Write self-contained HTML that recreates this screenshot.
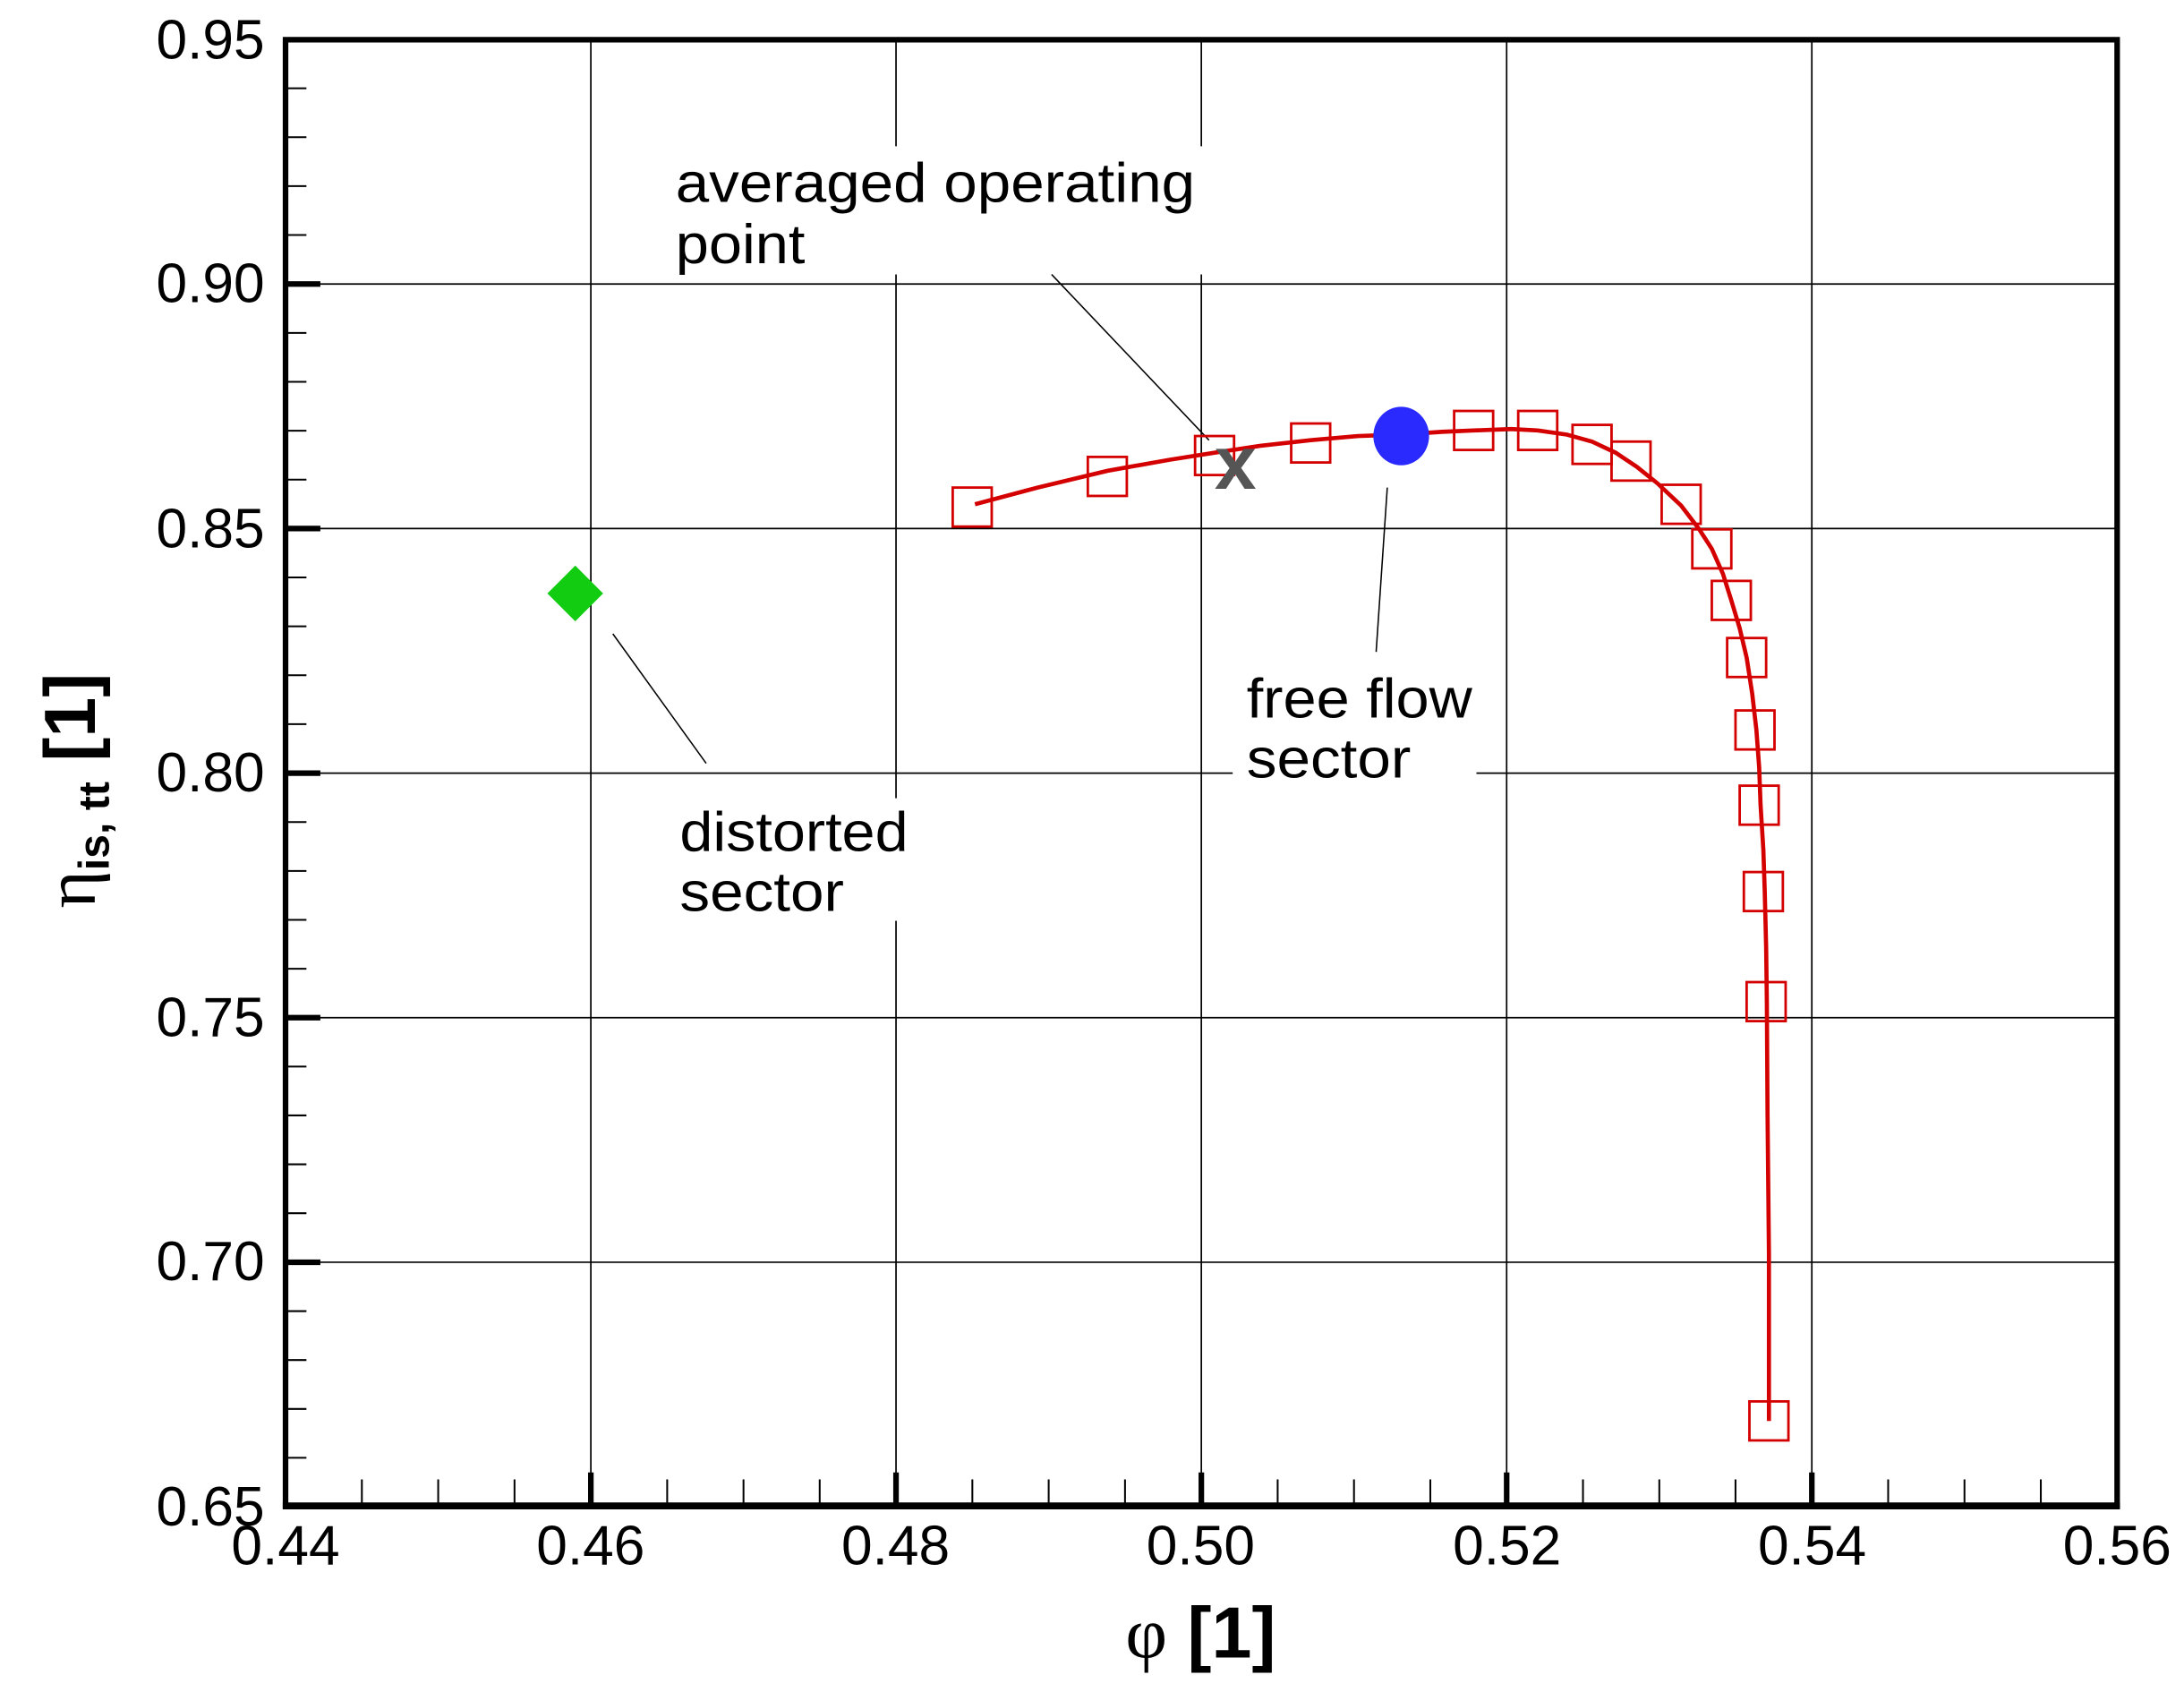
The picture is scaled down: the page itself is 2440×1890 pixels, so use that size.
<!DOCTYPE html>
<html><head><meta charset="utf-8"><style>
html,body{margin:0;padding:0;background:#fff;}
svg{display:block;}
text{font-family:"Liberation Sans",Arial,sans-serif;}
</style></head><body>
<svg width="2440" height="1890" viewBox="0 0 1568 1214.6" preserveAspectRatio="none" xmlns="http://www.w3.org/2000/svg">
<rect width="1568" height="1214.6" fill="#fff"/>
<g stroke="#000" stroke-width="1.1">
<line x1="424.2" y1="28" x2="424.2" y2="1081"/>
<line x1="643.3" y1="28" x2="643.3" y2="1081"/>
<line x1="862.5" y1="28" x2="862.5" y2="1081"/>
<line x1="1081.7" y1="28" x2="1081.7" y2="1081"/>
<line x1="1300.8" y1="28" x2="1300.8" y2="1081"/>
<line x1="205" y1="203.9" x2="1520" y2="203.9"/>
<line x1="205" y1="379.4" x2="1520" y2="379.4"/>
<line x1="205" y1="555" x2="1520" y2="555"/>
<line x1="205" y1="730.5" x2="1520" y2="730.5"/>
<line x1="205" y1="906.1" x2="1520" y2="906.1"/>
</g>
<rect x="480" y="105" width="385" height="92" fill="#fff"/>
<rect x="885" y="478" width="175" height="92" fill="#fff"/>
<rect x="480" y="573" width="180" height="88" fill="#fff"/>
<g stroke="#000" stroke-width="1.3">
<path d="M205 63.4h15M205 98.5h15M205 133.6h15M205 168.7h15M205 239h15M205 274.1h15M205 309.2h15M205 344.3h15M205 414.5h15M205 449.6h15M205 484.7h15M205 519.8h15M205 590.1h15M205 625.2h15M205 660.3h15M205 695.4h15M205 765.6h15M205 800.7h15M205 835.8h15M205 870.9h15M205 941.2h15M205 976.3h15M205 1011.4h15M205 1046.5h15"/>
<path d="M259.8 1081v-19M314.6 1081v-19M369.4 1081v-19M479 1081v-19M533.8 1081v-19M588.5 1081v-19M698.1 1081v-19M752.9 1081v-19M807.7 1081v-19M917.3 1081v-19M972.1 1081v-19M1026.9 1081v-19M1136.5 1081v-19M1191.3 1081v-19M1246 1081v-19M1355.6 1081v-19M1410.4 1081v-19M1465.2 1081v-19"/>
</g>
<g stroke="#000" stroke-width="4">
<path d="M205 203.9h25M205 379.4h25M205 555h25M205 730.5h25M205 906.1h25"/>
<path d="M424.2 1081v-24M643.3 1081v-24M862.5 1081v-24M1081.7 1081v-24M1300.8 1081v-24"/>
</g>
<path d="M205 28.5H1520V1081H205Z" fill="none" stroke="#000" stroke-width="4"/>
<line x1="203" y1="1081" x2="1522" y2="1081" stroke="#000" stroke-width="5"/>
<g stroke="#000" stroke-width="1">
<line x1="755" y1="197" x2="868" y2="316"/>
<line x1="988" y1="468" x2="996" y2="350"/>
<line x1="507" y1="548" x2="440" y2="455"/>
</g>
<polyline fill="none" stroke="#d40000" stroke-width="3" points="700,362 745,350 795,338 840,330 872,325 905,320 941,316 975,313 1006,312 1035,310 1058,309 1085,308 1104,309 1125,312 1143,317 1160,325 1175,335 1190,347 1207,363 1220,380 1229,394 1237,412 1243,431 1249,451 1254,472 1258,498 1261,524 1263,551 1264,578 1266,610 1267,640 1268,680 1268.5,719 1269,800 1270,900 1270,1020"/>
<g fill="none" stroke="#d40000" stroke-width="1.8">
<rect x="684" y="350" width="28" height="28"/>
<rect x="781" y="328" width="28" height="28"/>
<rect x="858" y="313" width="28" height="28"/>
<rect x="927" y="304" width="28" height="28"/>
<rect x="1044" y="295" width="28" height="28"/>
<rect x="1090" y="295" width="28" height="28"/>
<rect x="1129" y="305" width="28" height="28"/>
<rect x="1157" y="317" width="28" height="28"/>
<rect x="1193" y="348" width="28" height="28"/>
<rect x="1215" y="380" width="28" height="28"/>
<rect x="1229" y="417" width="28" height="28"/>
<rect x="1240" y="458" width="28" height="28"/>
<rect x="1246" y="510" width="28" height="28"/>
<rect x="1249" y="564" width="28" height="28"/>
<rect x="1252" y="626" width="28" height="28"/>
<rect x="1254" y="705" width="28" height="28"/>
<rect x="1256" y="1006" width="28" height="28"/>
</g>
<ellipse cx="1006" cy="313" rx="20" ry="21" fill="#2a2aff"/>
<text x="887" y="351" font-size="54" font-weight="bold" fill="#555" text-anchor="middle">x</text>
<path d="M413 406 L433 426 L413 446 L393 426 Z" fill="#11cc11"/>
<g font-size="40" fill="#000" lengthAdjust="spacingAndGlyphs">
<text x="485" y="145" textLength="373" lengthAdjust="spacingAndGlyphs">averaged operating</text>
<text x="485" y="189" textLength="93" lengthAdjust="spacingAndGlyphs">point</text>
<text x="895" y="515" textLength="162" lengthAdjust="spacingAndGlyphs">free flow</text>
<text x="895" y="558" textLength="118" lengthAdjust="spacingAndGlyphs">sector</text>
<text x="488" y="611" textLength="164" lengthAdjust="spacingAndGlyphs">distorted</text>
<text x="488" y="654" textLength="118" lengthAdjust="spacingAndGlyphs">sector</text>
</g>
<g font-size="40" fill="#000" text-anchor="end">
<text x="190" y="42">0.95</text>
<text x="190" y="217">0.90</text>
<text x="190" y="393">0.85</text>
<text x="190" y="568">0.80</text>
<text x="190" y="744">0.75</text>
<text x="190" y="919">0.70</text>
<text x="190" y="1095">0.65</text>
</g>
<g font-size="40" fill="#000" text-anchor="middle">
<text x="205" y="1123">0.44</text>
<text x="424" y="1123">0.46</text>
<text x="643" y="1123">0.48</text>
<text x="862" y="1123">0.50</text>
<text x="1082" y="1123">0.52</text>
<text x="1301" y="1123">0.54</text>
<text x="1520" y="1123">0.56</text>
</g>
<text x="862" y="1190" font-size="52" text-anchor="middle"><tspan font-family="Liberation Serif, serif">φ</tspan> <tspan font-weight="bold">[1]</tspan></text>
<text transform="translate(68,652) rotate(-90)" font-size="52"><tspan font-family="Liberation Serif, serif">η</tspan><tspan font-size="31" font-weight="bold" dy="10">is, tt</tspan><tspan font-weight="bold" dy="-10"> [1]</tspan></text>
</svg>
</body></html>
